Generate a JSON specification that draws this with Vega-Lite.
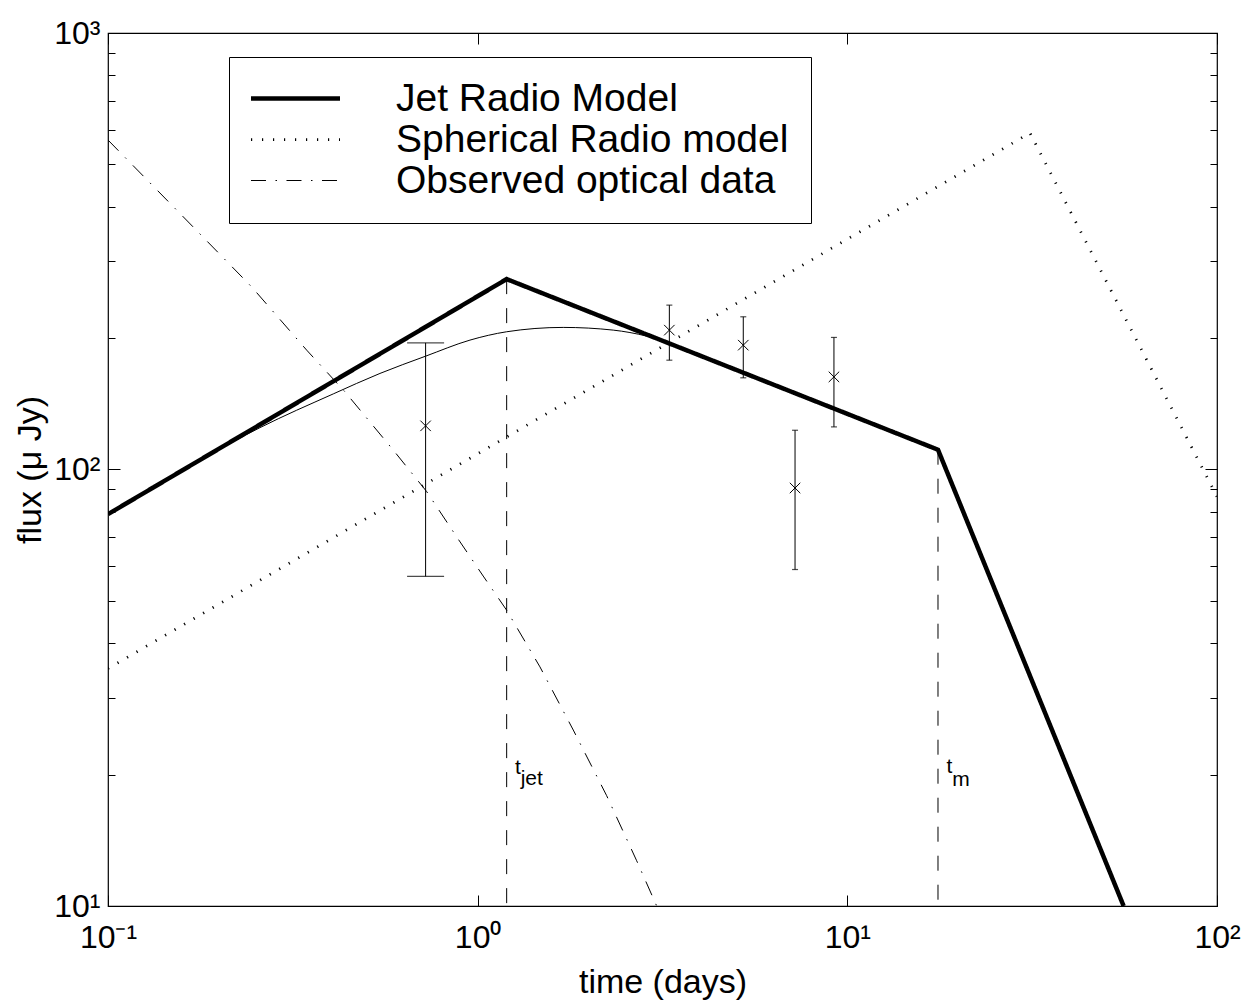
{
  "$schema": "https://vega.github.io/schema/vega-lite/v6.json",
  "width": 1109,
  "height": 873,
  "autosize": {"type": "none"},
  "padding": {"left": 108, "top": 33, "right": 34, "bottom": 94},
  "background": "white",
  "config": {
    "view": {"stroke": "black", "strokeWidth": 1.2},
    "font": "Liberation Sans",
    "axis": {
      "domain": false,
      "grid": false,
      "tickColor": "black",
      "tickWidth": 1,
      "labelColor": "black",
      "titleColor": "black",
      "labelFont": "Liberation Sans",
      "titleFont": "Liberation Sans",
      "titleFontWeight": "normal",
      "labelOverlap": false,
      "labelFlush": false
    },
    "legend": {
      "orient": "none",
      "legendX": 121,
      "legendY": 24,
      "symbolType": "M-2.618,0L2.618,0",
      "symbolSize": 1156,
      "symbolOffset": 25,
      "symbolStrokeColor": "black",
      "symbolFillColor": "transparent",
      "labelFontSize": 39,
      "labelFont": "Liberation Sans",
      "labelColor": "black",
      "labelOffset": 81,
      "labelLimit": 0,
      "padding": 22,
      "rowPadding": 1,
      "strokeColor": "black",
      "fillColor": "white"
    }
  },
  "datasets": {
    "lines": [
      {"series": "Jet Radio Model", "t": 0.1, "flux": 79},
      {"series": "Jet Radio Model", "t": 1.198, "flux": 273},
      {"series": "Jet Radio Model", "t": 17.59, "flux": 111},
      {"series": "Jet Radio Model", "t": 55.9, "flux": 10},
      {"series": "Spherical Radio model", "t": 0.1, "flux": 35.0},
      {"series": "Spherical Radio model", "t": 31.2, "flux": 590},
      {"series": "Spherical Radio model", "t": 100, "flux": 86.7},
      {"series": "Observed optical data", "t": 0.1, "flux": 568.6},
      {"series": "Observed optical data", "t": 0.1534, "flux": 392.9},
      {"series": "Observed optical data", "t": 0.2446, "flux": 262.1},
      {"series": "Observed optical data", "t": 0.3447, "flux": 187.7},
      {"series": "Observed optical data", "t": 0.4377, "flux": 150.6},
      {"series": "Observed optical data", "t": 0.59, "flux": 111.0},
      {"series": "Observed optical data", "t": 0.7278, "flux": 89.0},
      {"series": "Observed optical data", "t": 0.8774, "flux": 70.1},
      {"series": "Observed optical data", "t": 1.035, "flux": 57.0},
      {"series": "Observed optical data", "t": 1.198, "flux": 47.6},
      {"series": "Observed optical data", "t": 1.474, "flux": 35.3},
      {"series": "Observed optical data", "t": 1.814, "flux": 25.3},
      {"series": "Observed optical data", "t": 2.233, "flux": 17.9},
      {"series": "Observed optical data", "t": 2.692, "flux": 12.7},
      {"series": "Observed optical data", "t": 3.05, "flux": 10.0}
    ],
    "fit": [
      {"t": 0.1, "flux": 79},
      {"t": 0.1299, "flux": 90.1},
      {"t": 0.1773, "flux": 105.0},
      {"t": 0.2577, "flux": 124.7},
      {"t": 0.4068, "flux": 149.0},
      {"t": 0.5441, "flux": 166.0},
      {"t": 0.723, "flux": 181.8},
      {"t": 0.9532, "flux": 197.9},
      {"t": 1.198, "flux": 206.8},
      {"t": 1.704, "flux": 211.6},
      {"t": 2.327, "flux": 208.6},
      {"t": 2.865, "flux": 202.1},
      {"t": 3.211, "flux": 196.6},
      {"t": 4, "flux": 182.5},
      {"t": 6, "flux": 159.4},
      {"t": 9, "flux": 139.2},
      {"t": 12, "flux": 126.6}
    ],
    "obs": [
      {"t": 0.723, "flux": 125.9, "lo": 56.9, "hi": 195},
      {"t": 3.3, "flux": 208.6, "lo": 178, "hi": 238},
      {"t": 5.23, "flux": 192.7, "lo": 162.2, "hi": 223.8},
      {"t": 7.22, "flux": 90.7, "lo": 59, "hi": 123},
      {"t": 9.2, "flux": 163, "lo": 125.2, "hi": 200.7}
    ],
    "breaks": [
      {"t": 1.198, "top": 273},
      {"t": 17.59, "top": 111}
    ],
    "labels": [
      {"t": 1.2616, "flux": 20.1, "text": "t"},
      {"t": 1.307, "flux": 18.9, "text": "jet"},
      {"t": 18.56, "flux": 20.21, "text": "t"},
      {"t": 19.22, "flux": 18.8, "text": "m"}
    ]
  },
  "layer": [
    {
      "data": {"name": "lines"},
      "mark": {"type": "line", "clip": true, "color": "black", "strokeJoin": "miter"},
      "encoding": {
        "x": {
          "field": "t",
          "type": "quantitative",
          "scale": {"type": "log", "domain": [0.1, 100], "nice": false},
          "axis": {
            "orient": "bottom",
            "values": [0.1, 1, 10, 100],
            "labelExpr": "datum.value < 0.5 ? '10⁻¹' : datum.value < 5 ? '10⁰' : datum.value < 50 ? '10¹' : '10²'",
            "tickSize": -11,
            "labelPadding": 27,
            "labelFontSize": 32,
            "labelBaseline": "top",
            "labelAlign": "center",
            "title": "time (days)",
            "titleFontSize": 34,
            "titleY": 86,
            "titleBaseline": "alphabetic"
          }
        },
        "y": {
          "field": "flux",
          "type": "quantitative",
          "scale": {"type": "log", "domain": [10, 1000], "nice": false},
          "axis": {
            "orient": "left",
            "values": [10, 20, 30, 40, 50, 60, 70, 80, 90, 100, 200, 300, 400, 500, 600, 700, 800, 900, 1000],
            "labelExpr": "datum.value == 10 ? '10¹' : datum.value == 100 ? '10²' : datum.value == 1000 ? '10³' : ''",
            "tickSize": {"condition": {"test": "datum.value == 10 || datum.value == 100 || datum.value == 1000", "value": -12}, "value": -7},
            "labelPadding": 20,
            "labelFontSize": 32,
            "labelBaseline": "middle",
            "title": "flux (μ Jy)",
            "titleFontSize": 34,
            "titleAngle": -90,
            "titleX": -68,
            "titleY": 436.5,
            "titleAlign": "center",
            "titleBaseline": "alphabetic"
          }
        },
        "strokeDash": {
          "field": "series",
          "type": "nominal",
          "scale": {
            "domain": ["Jet Radio Model", "Spherical Radio model", "Observed optical data"],
            "range": [[1, 0], [1.2, 9.8], [15, 9.5, 1.5, 9.5]]
          },
          "legend": {"title": null}
        },
        "strokeWidth": {
          "field": "series",
          "type": "nominal",
          "scale": {
            "domain": ["Jet Radio Model", "Spherical Radio model", "Observed optical data"],
            "range": [4.5, 1, 1]
          },
          "legend": {"title": null}
        }
      }
    },
    {
      "data": {"name": "fit"},
      "mark": {"type": "line", "clip": true, "color": "black", "strokeWidth": 1, "interpolate": "monotone"},
      "encoding": {
        "x": {
          "field": "t",
          "type": "quantitative",
          "axis": {"orient": "top", "values": [0.1, 1, 10, 100], "labels": false, "tickSize": -11, "title": null}
        },
        "y": {
          "field": "flux",
          "type": "quantitative",
          "axis": {
            "orient": "right",
            "values": [10, 20, 30, 40, 50, 60, 70, 80, 90, 100, 200, 300, 400, 500, 600, 700, 800, 900, 1000],
            "labels": false,
            "tickSize": {"condition": {"test": "datum.value == 10 || datum.value == 100 || datum.value == 1000", "value": -12}, "value": -7},
            "title": null
          }
        }
      }
    },
    {
      "data": {"name": "obs"},
      "mark": {"type": "rule", "color": "black", "strokeWidth": 1},
      "encoding": {
        "x": {"field": "t", "type": "quantitative", "axis": null},
        "y": {"field": "lo", "type": "quantitative", "axis": null},
        "y2": {"field": "hi"}
      }
    },
    {
      "data": {"name": "obs"},
      "transform": [{"fold": ["lo", "hi"], "as": ["end", "v"]}, {"filter": "datum.t < 1"}],
      "mark": {"type": "tick", "orient": "horizontal", "size": 37, "thickness": 1.2, "color": "black"},
      "encoding": {
        "x": {"field": "t", "type": "quantitative", "axis": null},
        "y": {"field": "v", "type": "quantitative", "axis": null}
      }
    },
    {
      "data": {"name": "obs"},
      "transform": [{"fold": ["lo", "hi"], "as": ["end", "v"]}, {"filter": "datum.t >= 1"}],
      "mark": {"type": "tick", "orient": "horizontal", "size": 6, "thickness": 1.2, "color": "black"},
      "encoding": {
        "x": {"field": "t", "type": "quantitative", "axis": null},
        "y": {"field": "v", "type": "quantitative", "axis": null}
      }
    },
    {
      "data": {"name": "obs"},
      "mark": {"type": "point", "shape": "M-1,-1L1,1M-1,1L1,-1", "size": 110, "filled": false, "stroke": "black", "strokeWidth": 1, "opacity": 1},
      "encoding": {
        "x": {"field": "t", "type": "quantitative", "axis": null},
        "y": {"field": "flux", "type": "quantitative", "axis": null}
      }
    },
    {
      "data": {"name": "breaks"},
      "mark": {"type": "rule", "color": "black", "strokeWidth": 1, "strokeDash": [15, 14]},
      "encoding": {
        "x": {"field": "t", "type": "quantitative", "axis": null},
        "y": {"field": "top", "type": "quantitative", "axis": null},
        "y2": {"datum": 10}
      }
    },
    {
      "data": {"name": "labels"},
      "mark": {"type": "text", "align": "left", "baseline": "alphabetic", "fontSize": 21, "font": "Liberation Sans", "color": "black"},
      "encoding": {
        "x": {"field": "t", "type": "quantitative", "axis": null},
        "y": {"field": "flux", "type": "quantitative", "axis": null},
        "text": {"field": "text"}
      }
    }
  ],
  "resolve": {"axis": {"x": "independent", "y": "independent"}}
}
